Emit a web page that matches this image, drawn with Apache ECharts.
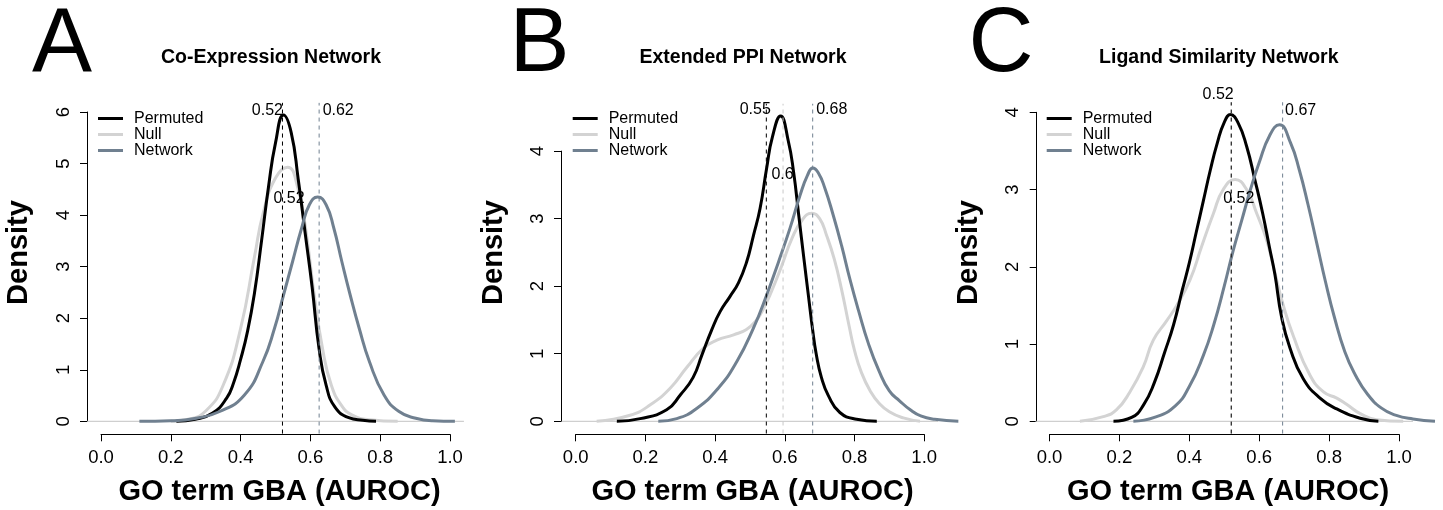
<!DOCTYPE html>
<html>
<head>
<meta charset="utf-8">
<script src="https://cdn.jsdelivr.net/npm/echarts@6/dist/echarts.min.js"></script>
<style>
html,body{margin:0;padding:0;background:#ffffff;}
#chart{width:1443px;height:510px;}
</style>
</head>
<body>
<div id="chart"></div>
<script>
// ---------------- DATA ----------------
const seriesNames = ['Permuted', 'Null', 'Network'];
const panelLetters = ['A', 'B', 'C'];
const panelTitles = ['Co-Expression Network', 'Extended PPI Network', 'Ligand Similarity Network'];
const xTickValues = [0, 0.2, 0.4, 0.6, 0.8, 1.0];
const yAxisMax = [6, 4, 4];
const xAxisTitle = 'GO term GBA (AUROC)';
const yAxisTitle = 'Density';

// Panel A: Co-Expression Network
const aPermutedX = [0.216, 0.27, 0.32, 0.36, 0.38, 0.40, 0.42, 0.44, 0.46, 0.48, 0.50, 0.523, 0.545, 0.565, 0.585, 0.605, 0.625, 0.645, 0.67, 0.71, 0.75, 0.788];
const aPermutedY = [0, 0.04, 0.16, 0.45, 0.75, 1.2, 1.75, 2.5, 3.5, 4.55, 5.4, 5.94, 5.6, 4.7, 3.65, 2.6, 1.4, 0.7, 0.28, 0.07, 0.02, 0];
const aNullX = [0.20, 0.25, 0.30, 0.35, 0.40, 0.44, 0.465, 0.50, 0.535, 0.565, 0.585, 0.61, 0.635, 0.66, 0.69, 0.72, 0.77, 0.85];
const aNullY = [0, 0.04, 0.2, 0.7, 1.8, 3.2, 4.05, 4.72, 4.93, 4.5, 3.8, 2.5, 1.4, 0.7, 0.3, 0.12, 0.03, 0];
const aNetworkX = [0.11, 0.2, 0.273, 0.34, 0.411, 0.464, 0.497, 0.523, 0.549, 0.575, 0.597, 0.621, 0.645, 0.667, 0.69, 0.714, 0.74, 0.769, 0.811, 0.854, 0.902, 0.95, 1.014];
const aNetworkY = [0, 0.01, 0.06, 0.19, 0.51, 1.16, 1.8, 2.45, 3.1, 3.75, 4.2, 4.35, 4.2, 3.75, 3.1, 2.45, 1.8, 1.16, 0.51, 0.19, 0.06, 0.01, 0];

// Panel B: Extended PPI Network
const bPermutedX = [0.118, 0.185, 0.261, 0.30, 0.337, 0.362, 0.39, 0.414, 0.443, 0.467, 0.49, 0.51, 0.529, 0.548, 0.564, 0.588, 0.61, 0.625, 0.64, 0.655, 0.668, 0.68, 0.69, 0.705, 0.725, 0.758, 0.806, 0.864];
const bPermutedY = [0, 0.04, 0.17, 0.39, 0.65, 0.98, 1.35, 1.62, 1.85, 2.05, 2.35, 2.75, 3.15, 3.75, 4.2, 4.52, 4.15, 3.7, 3.05, 2.4, 1.85, 1.35, 1.0, 0.65, 0.38, 0.13, 0.03, 0];
const bNullX = [0.06, 0.156, 0.213, 0.271, 0.319, 0.366, 0.405, 0.453, 0.49, 0.519, 0.539, 0.56, 0.591, 0.62, 0.65, 0.677, 0.70, 0.72, 0.742, 0.763, 0.785, 0.80, 0.82, 0.845, 0.87, 0.90, 0.94, 0.988];
const bNullY = [0, 0.09, 0.24, 0.49, 0.8, 1.08, 1.2, 1.28, 1.36, 1.5, 1.67, 1.9, 2.3, 2.7, 2.98, 3.08, 3.0, 2.75, 2.4, 1.95, 1.4, 1.05, 0.72, 0.45, 0.27, 0.14, 0.05, 0];
const bNetworkX = [0.237, 0.29, 0.347, 0.409, 0.462, 0.51, 0.548, 0.582, 0.615, 0.644, 0.665, 0.68, 0.696, 0.715, 0.739, 0.763, 0.787, 0.811, 0.84, 0.87, 0.90, 0.93, 0.96, 0.99, 1.03, 1.098];
const bNetworkY = [0, 0.04, 0.19, 0.49, 0.88, 1.38, 1.87, 2.36, 2.86, 3.35, 3.64, 3.75, 3.68, 3.45, 3.05, 2.6, 2.1, 1.65, 1.15, 0.75, 0.45, 0.3, 0.17, 0.08, 0.03, 0];

// Panel C: Ligand Similarity Network
const cPermutedX = [0.183, 0.235, 0.27, 0.30, 0.33, 0.355, 0.38, 0.40, 0.42, 0.44, 0.46, 0.48, 0.50, 0.518, 0.54, 0.564, 0.588, 0.61, 0.629, 0.645, 0.664, 0.688, 0.726, 0.774, 0.822, 0.889, 0.941];
const cPermutedY = [0, 0.05, 0.22, 0.5, 0.9, 1.25, 1.7, 2.05, 2.45, 2.85, 3.25, 3.6, 3.87, 3.97, 3.86, 3.56, 3.12, 2.69, 2.26, 1.9, 1.35, 0.95, 0.55, 0.3, 0.16, 0.04, 0];
const cNullX = [0.087, 0.154, 0.192, 0.23, 0.268, 0.297, 0.335, 0.364, 0.402, 0.435, 0.469, 0.497, 0.531, 0.564, 0.593, 0.621, 0.645, 0.669, 0.698, 0.745, 0.784, 0.822, 0.85, 0.889, 0.936, 1.012];
const cNullY = [0, 0.06, 0.15, 0.38, 0.7, 1.05, 1.3, 1.5, 1.83, 2.26, 2.69, 3.0, 3.13, 3.0, 2.69, 2.35, 1.92, 1.5, 1.1, 0.6, 0.38, 0.3, 0.22, 0.1, 0.02, 0];
const cNetworkX = [0.24, 0.30, 0.36, 0.40, 0.44, 0.47, 0.50, 0.525, 0.55, 0.575, 0.60, 0.63, 0.658, 0.69, 0.715, 0.74, 0.765, 0.79, 0.815, 0.845, 0.875, 0.91, 0.95, 0.99, 1.04, 1.103];
const cNetworkY = [0, 0.05, 0.2, 0.45, 0.85, 1.25, 1.75, 2.2, 2.6, 3.0, 3.35, 3.7, 3.84, 3.6, 3.25, 2.8, 2.3, 1.8, 1.35, 0.9, 0.6, 0.35, 0.17, 0.08, 0.03, 0];

// Means (dashed lines) and their printed labels
const permutedMeans = [0.52, 0.547, 0.52];
const nullMeans = [0.52, 0.595, 0.52];
const networkMeans = [0.625, 0.68, 0.667];
const permutedMeanLabels = ['0.52', '0.55', '0.52'];
const nullMeanLabels = ['0.52', '0.6', '0.52'];
const networkMeanLabels = ['0.62', '0.68', '0.67'];

// ---------------- STYLE / LAYOUT ----------------
const FONT = '"Liberation Sans", Arial, Helvetica, sans-serif';
const colors = { Permuted: '#000000', Null: '#D3D3D3', Network: '#708090' };
const dashColors = { Permuted: '#000000', Null: '#C8C8C8', Network: '#708090' };
const layout = [
  { grid: { left: 101, top: 112, width: 349, height: 309.3 }, yOff: 14, legendLeft: 98,
    letter: [32, 46.5], title: [271, 58], ylab: [18.5, 252.5], xlab: [279.5, 492],
    lab: { Permuted: { y: 6.02, align: 'right', dx: 1 }, Null: { y: 4.32, align: 'center', dx: 7 }, Network: { y: 6.02, align: 'left', dx: 4 } } },
  { grid: { left: 575.7, top: 151.1, width: 348.5, height: 270.2 }, yOff: 14.7, legendLeft: 572.7,
    letter: [509.4, 46.5], title: [743, 58], ylab: [493.5, 252.5], xlab: [752.5, 492],
    lab: { Permuted: { y: 4.6, align: 'right', dx: 5 }, Null: { y: 3.64, align: 'center', dx: 0 }, Network: { y: 4.6, align: 'left', dx: 4 } } },
  { grid: { left: 1049.5, top: 112.3, width: 349.5, height: 309 }, yOff: 12.8, legendLeft: 1046.7,
    letter: [968.5, 46.5], title: [1218.8, 58], ylab: [968.5, 252.5], xlab: [1228, 492],
    lab: { Permuted: { y: 4.22, align: 'right', dx: 3 }, Null: { y: 2.87, align: 'center', dx: 8 }, Network: { y: 4.02, align: 'left', dx: 3 } } }
];

const panelData = [
  { Permuted: [aPermutedX, aPermutedY], Null: [aNullX, aNullY], Network: [aNetworkX, aNetworkY] },
  { Permuted: [bPermutedX, bPermutedY], Null: [bNullX, bNullY], Network: [bNetworkX, bNetworkY] },
  { Permuted: [cPermutedX, cPermutedY], Null: [cNullX, cNullY], Network: [cNetworkX, cNetworkY] }
];
const means = { Permuted: permutedMeans, Null: nullMeans, Network: networkMeans };
const meanLabels = { Permuted: permutedMeanLabels, Null: nullMeanLabels, Network: networkMeanLabels };

function zip(xs, ys) { return xs.map((x, i) => [x, ys[i]]); }

const grids = [], xAxes = [], yAxes = [], legends = [], series = [], graphics = [];
const xMin = xTickValues[0], xMax = xTickValues[xTickValues.length - 1];
const xPad = 0.04 * (xMax - xMin);

layout.forEach((L, p) => {
  const D = panelData[p];
  const allX = [].concat(...seriesNames.map(n => D[n][0]));
  const dataXMin = Math.min(xMin - xPad, ...allX) - 0.02;
  const dataXMax = Math.max(xMax + xPad, ...allX) + 0.02;
  const g = L.grid;
  const pxPerX = g.width / (xMax - xMin);

  // display grid (axes only, R style offset axes)
  grids.push(Object.assign({ containLabel: false, outerBoundsMode: 'none' }, g));
  // data grid: same scale, wider x range so tails past the axis are not cut
  grids.push({ containLabel: false, outerBoundsMode: 'none',
    left: g.left + (dataXMin - xMin) * pxPerX, width: (dataXMax - dataXMin) * pxPerX,
    top: g.top, height: g.height });

  xAxes.push({
    gridIndex: 2 * p, type: 'value', min: xMin, max: xMax, interval: xTickValues[1] - xTickValues[0],
    offset: 13, position: 'bottom',
    axisLine: { show: true, onZero: false, lineStyle: { color: '#000', width: 1 } },
    axisTick: { show: true, length: 7, lineStyle: { color: '#000', width: 1 } },
    axisLabel: { show: true, margin: 14, fontSize: 18.5, color: '#000', fontFamily: FONT,
      formatter: v => v.toFixed(1), showMinLabel: true, showMaxLabel: true },
    splitLine: { show: false }
  });
  xAxes.push({ gridIndex: 2 * p + 1, type: 'value', min: dataXMin, max: dataXMax, show: false, splitLine: { show: false } });

  yAxes.push({
    gridIndex: 2 * p, type: 'value', min: 0, max: yAxisMax[p], interval: 1,
    offset: L.yOff, position: 'left',
    axisLine: { show: true, onZero: false, lineStyle: { color: '#000', width: 1 } },
    axisTick: { show: true, length: 7, lineStyle: { color: '#000', width: 1 } },
    axisLabel: { show: true, rotate: 90, margin: 14, fontSize: 18.5, color: '#000', fontFamily: FONT,
      showMinLabel: true, showMaxLabel: true },
    splitLine: { show: false }
  });
  yAxes.push({ gridIndex: 2 * p + 1, type: 'value', min: 0, max: yAxisMax[p], show: false, splitLine: { show: false } });

  legends.push({
    orient: 'vertical', left: L.legendLeft, top: 110.5, padding: 0, itemGap: 0,
    itemWidth: 25, itemHeight: 3, icon: 'rect', selectedMode: false,
    data: seriesNames,
    textStyle: { fontSize: 16, lineHeight: 16, color: '#000', fontFamily: FONT, padding: [0, 0, 0, 6] }
  });

  const xi = 2 * p + 1, yi = 2 * p + 1;
  const densMax = Math.max(...seriesNames.map(n => Math.max(...D[n][1])));
  const yLo = -0.04 * densMax, yHi = 1.04 * densMax;

  // zero line across plot region
  series.push({
    type: 'line', name: 'zero', xAxisIndex: xi, yAxisIndex: yi, silent: true, clip: false,
    showSymbol: false, symbol: 'none', z: 1, animation: false,
    lineStyle: { color: '#C4C4C4', width: 1 },
    data: [[xMin - xPad, 0], [xMax + xPad, 0]]
  });

  const order = ['Null', 'Permuted', 'Network'];
  order.forEach((n, k) => {
    series.push({
      type: 'line', name: n, xAxisIndex: xi, yAxisIndex: yi, clip: false,
      showSymbol: false, symbol: 'none', smooth: 0.5, z: 2 + k, animation: false,
      color: colors[n], itemStyle: { color: colors[n] },
      lineStyle: { color: colors[n], width: 3, cap: 'butt', join: 'round' },
      data: zip(D[n][0], D[n][1])
    });
  });
  // dashed mean lines spanning the plot region
  order.forEach((n) => {
    series.push({
      type: 'line', name: n + ' mean', xAxisIndex: xi, yAxisIndex: yi, clip: false, silent: true,
      showSymbol: false, symbol: 'none', z: 8, animation: false,
      lineStyle: { color: dashColors[n], width: 1, type: [4, 4] },
      data: [[means[n][p], yLo], [means[n][p], yHi]]
    });
  });

  // mean value labels
  series.push({
    type: 'scatter', name: 'meanLabels', xAxisIndex: xi, yAxisIndex: yi, clip: false, silent: true,
    symbolSize: 1, itemStyle: { color: 'rgba(0,0,0,0)' }, z: 10, animation: false,
    data: seriesNames.map(n => ({
      value: [means[n][p], L.lab[n].y], name: meanLabels[n][p],
      label: { show: true, position: [0, 0], formatter: '{b}', align: L.lab[n].align, verticalAlign: 'middle',
        offset: [L.lab[n].dx, 0], color: '#000000', opacity: 1, textBorderWidth: 0, fontSize: 16, fontFamily: FONT }
    }))
  });

  graphics.push(
    { type: 'text', x: L.letter[0], y: L.letter[1], silent: true,
      style: { text: panelLetters[p], fontSize: 90, fontFamily: FONT, fill: '#000', align: 'left', verticalAlign: 'middle' } },
    { type: 'text', x: L.title[0], y: L.title[1], silent: true,
      style: { text: panelTitles[p], fontSize: 19.5, fontWeight: 'bold', fontFamily: FONT, fill: '#000', align: 'center', verticalAlign: 'middle' } },
    { type: 'text', x: L.ylab[0], y: L.ylab[1], rotation: Math.PI / 2, silent: true,
      style: { text: yAxisTitle, fontSize: 29, fontWeight: 'bold', fontFamily: FONT, fill: '#000', align: 'center', verticalAlign: 'middle' } },
    { type: 'text', x: L.xlab[0], y: L.xlab[1], silent: true,
      style: { text: xAxisTitle, fontSize: 29, fontWeight: 'bold', fontFamily: FONT, fill: '#000', align: 'center', verticalAlign: 'middle' } }
  );
});

const chart = echarts.init(document.getElementById('chart'), null, { renderer: 'canvas' });
chart.setOption({
  backgroundColor: '#ffffff',
  animation: false,
  textStyle: { fontFamily: FONT },
  tooltip: { show: false },
  grid: grids,
  xAxis: xAxes,
  yAxis: yAxes,
  legend: legends,
  series: series,
  graphic: graphics
});
</script>
</body>
</html>
